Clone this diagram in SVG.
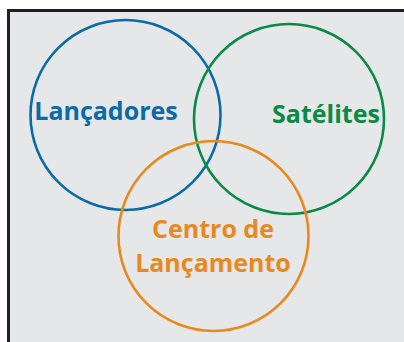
<svg xmlns="http://www.w3.org/2000/svg" width="404" height="342" viewBox="0 0 404 342">
<style>
.c{fill:none;stroke-width:2.6}
.t{font-family:"Open Sans","Noto Sans",sans-serif;font-weight:bold;font-size:25px;text-anchor:middle}
</style>
<rect x="0" y="0" width="404" height="342" fill="#ffffff"/>
<rect x="8" y="10" width="396" height="332" fill="#e6e7e8"/>
<g id="frame"><path d="M8.5 342V10.5H404" fill="none" stroke="#231f20" stroke-width="3"/></g>
<g id="connectors"></g>
<g id="lancadores">
<circle class="c" cx="125.5" cy="115" r="95" stroke="#0b6ba6"/>
<text class="t" x="106" y="119.5" fill="#0b6ba6">Lançadores</text>
</g>
<g id="satelites">
<circle class="c" cx="289" cy="119" r="95" stroke="#0a8a45"/>
<text class="t" x="326" y="123" fill="#0a8a45">Satélites</text>
</g>
<g id="centro">
<circle class="c" cx="213.5" cy="236" r="95" stroke="#e8891e"/>
<text class="t" x="213" y="238" fill="#e8891e">Centro de</text>
<text class="t" x="213" y="272" fill="#e8891e">Lançamento</text>
</g>
</svg>
